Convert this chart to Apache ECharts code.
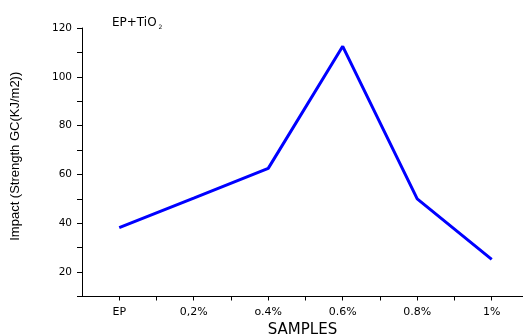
<!DOCTYPE html>
<html>
<head>
<meta charset="utf-8">
<script src="https://cdn.jsdelivr.net/npm/echarts@6/dist/echarts.min.js"></script>
<style>
  html, body { margin: 0; padding: 0; background: #fff; }
  #chart { width: 523px; height: 335px; }
</style>
</head>
<body>
<div id="chart"></div>
<script>
// Sample names along the bottom axis and the measured impact strength for each
const samples = ['EP', '0,2%', 'o.4%', '0.6%', '0.8%', '1%'];
const impactStrength = [38.2, 50.3, 62.5, 112.5, 50, 25.2];
const yTickLabels = [20, 40, 60, 80, 100, 120];

const wide = 'DejaVu Sans, Verdana, sans-serif';
const narrow = 'Liberation Sans, Arial, sans-serif';
const chart = echarts.init(document.getElementById('chart'), null, { renderer: 'canvas' });

chart.setOption({
  animation: false,
  backgroundColor: '#ffffff',
  title: {
    text: '{a|EP+TiO}{b|2}',
    left: 107,
    top: 10,
    textStyle: {
      fontWeight: 'normal',
      rich: {
        a: { fontFamily: wide, fontSize: 12, color: '#000', fontWeight: 'normal' },
        b: { fontFamily: wide, fontSize: 6, color: '#000', fontWeight: 'normal', padding: [9, 0, 0, 2] }
      }
    }
  },
  grid: { left: 82, top: 28, right: 0, bottom: 38.5, containLabel: false, outerBoundsMode: 'none' },
  xAxis: {
    type: 'value',
    min: -0.5,
    // the axis runs a little past the canvas edge, cut off before the last half-step
    max: 5.42,
    interval: 0.5,
    name: 'SAMPLES',
    nameLocation: 'middle',
    nameGap: 26,
    nameTextStyle: { fontFamily: wide, fontSize: 15, color: '#000' },
    axisLine: { onZero: false, lineStyle: { color: '#000', width: 1 } },
    axisTick: { inside: false, length: 4, lineStyle: { color: '#000' } },
    axisLabel: {
      fontFamily: wide, fontSize: 11, color: '#000', margin: 10,
      showMinLabel: false, showMaxLabel: false,
      formatter: v => (Number.isInteger(v) && v >= 0 && v < samples.length) ? samples[v] : ''
    },
    splitLine: { show: false }
  },
  yAxis: {
    type: 'value',
    min: 10,
    max: 120,
    interval: 10,
    name: 'Impact (Strength GC(KJ/m2))',
    nameLocation: 'middle',
    nameGap: 60,
    nameTextStyle: { fontFamily: narrow, fontSize: 13, color: '#000', padding: [0, 0, 0, 12] },
    axisLine: { show: true, onZero: false, lineStyle: { color: '#000', width: 1 } },
    axisTick: { inside: false, length: 5, lineStyle: { color: '#000' } },
    axisLabel: {
      fontFamily: wide, fontSize: 10.5, color: '#000', margin: 10,
      formatter: v => yTickLabels.includes(v) ? String(v) : ''
    },
    splitLine: { show: false }
  },
  series: [{
    type: 'line',
    data: impactStrength.map((v, i) => [i, v]),
    symbol: 'none',
    lineStyle: { color: '#0000ff', width: 3 },
    clip: false
  }]
});
</script>
</body>
</html>
